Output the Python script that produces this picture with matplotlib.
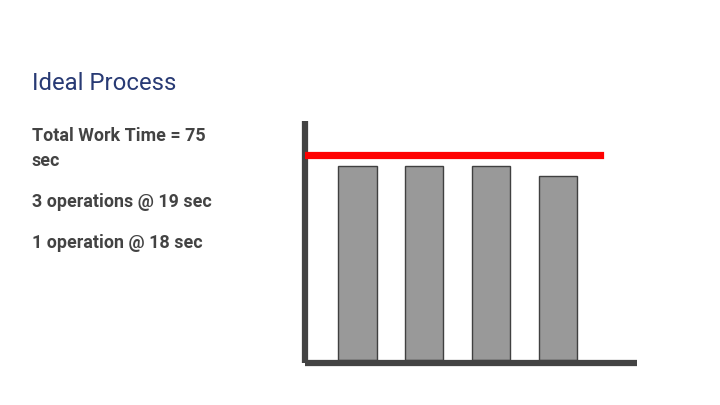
import matplotlib.pyplot as plt

# operation times (sec) and the takt line
operations = ['Op 1', 'Op 2', 'Op 3', 'Op 4']
work_time = [19, 19, 19, 18]
takt_time = 20

title = 'Ideal Process'
body_lines = [
    ('Total Work Time = 75', 141),
    ('sec', 166),
    ('3 operations @ 19 sec', 207),
    ('1 operation @ 18 sec', 248),
]

plt.rcParams['font.family'] = ['Roboto', 'DejaVu Sans']

W, H = 720, 405
fig = plt.figure(figsize=(W / 100, H / 100), dpi=100)
fig.patch.set_facecolor('white')

# slide text
fig.text(32 / W, 1 - 90 / H, title, fontsize=17.2, color='#283a74',
         va='baseline', ha='left')
for txt, base in body_lines:
    fig.text(32 / W, 1 - base / H, txt, fontsize=12.9, fontweight='bold',
             color='#434343', va='baseline', ha='left')

# chart area: left spine at x=305px, bottom spine at y=363px
ax = fig.add_axes([305 / W, (H - 363) / H, 332 / W, 242 / H])
ax.set_facecolor('none')

xs = list(range(len(operations)))
ax.bar(xs, work_time, width=0.57, color='#999999', edgecolor='#404040',
       linewidth=1.0, zorder=2)
ax.axhline(takt_time, xmin=0.01, xmax=0.89, color='#ff0000',
           linewidth=5.2, zorder=3)

ax.set_xlim(-0.786, 4.184)
ax.set_ylim(-0.25, 23.35)

for side in ['top', 'right']:
    ax.spines[side].set_visible(False)
for side in ['left', 'bottom']:
    ax.spines[side].set_color('#434343')
    ax.spines[side].set_linewidth(4.5)
    ax.spines[side].set_capstyle('butt')
ax.set_xticks([])
ax.set_yticks([])

fig.savefig('out.png', dpi=100, facecolor='white')
